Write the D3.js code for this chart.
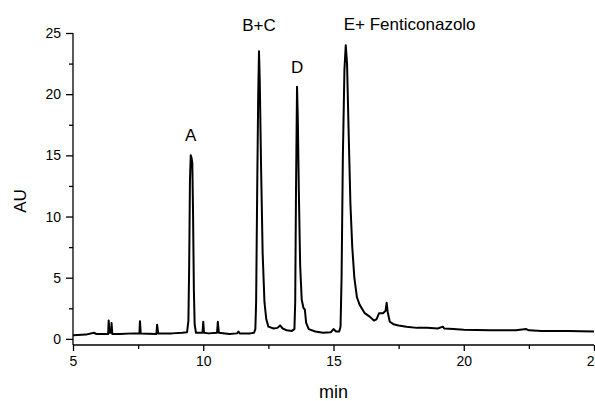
<!DOCTYPE html>
<html>
<head>
<meta charset="utf-8">
<script src="https://cdn.jsdelivr.net/npm/d3@7"></script>
<style>
  body { margin: 0; background: #fff; }
  svg { display: block; font-family: "Liberation Sans", Arial, sans-serif; }
</style>
</head>
<body>
<svg id="chart" width="595" height="401"></svg>
<script>
// retention time (min) and absorbance (AU)
const times = [
  5.0, 5.5, 5.8, 5.9, 6.2, 6.35, 6.37, 6.4, 6.46, 6.48, 6.51, 6.8, 7.3, 7.55, 7.57, 7.6,
  8.2, 8.23, 8.27, 8.8, 9.2, 9.38, 9.43, 9.46, 9.49, 9.52, 9.55, 9.58, 9.61, 9.64, 9.67, 9.72,
  9.9, 9.97, 10.0, 10.03, 10.2, 10.53, 10.56, 10.6, 11.0, 11.3, 11.35, 11.4, 11.8, 11.95,
  12.0, 12.03, 12.07, 12.11, 12.14, 12.17, 12.22, 12.28, 12.35, 12.42, 12.5, 12.7, 12.85, 12.95,
  13.05, 13.2, 13.4, 13.5, 13.53, 13.56, 13.6, 13.63, 13.67, 13.72, 13.78, 13.85, 13.9, 13.95,
  14.05, 14.3, 14.6, 14.9, 15.0, 15.1, 15.22, 15.27, 15.31, 15.36, 15.42, 15.47, 15.52, 15.58,
  15.65, 15.72, 15.8, 15.9, 16.0, 16.2, 16.4, 16.55, 16.65, 16.75, 16.9, 17.0, 17.04, 17.08,
  17.16, 17.3, 17.5, 17.8, 18.2, 18.6, 19.0, 19.2, 19.25, 19.6, 20.0, 21.0, 22.0, 22.4, 22.5,
  23.0, 24.0, 25.0
];
const absorbance = [
  0.3, 0.35, 0.5, 0.4, 0.4, 0.4, 1.5, 0.5, 0.5, 1.3, 0.4, 0.4, 0.45, 0.45, 1.45, 0.45,
  0.4, 1.15, 0.45, 0.45, 0.5, 0.55, 1.5, 6, 13, 15, 14.8, 14.4, 10, 4, 1.2, 0.5,
  0.5, 0.5, 1.4, 0.5, 0.45, 0.5, 1.4, 0.5, 0.4, 0.45, 0.6, 0.45, 0.45, 0.5,
  0.8, 3, 12, 20, 23.5, 21, 14, 7, 3, 1.6, 1.0, 0.85, 0.9, 1.1,
  0.85, 0.7, 0.65, 0.8, 3, 12, 20.6, 18, 12, 6, 3.2, 2.5, 2.4, 1.3,
  0.8, 0.6, 0.5, 0.55, 0.8, 0.6, 0.6, 1.0, 5, 15, 22, 24, 22.5, 17,
  11, 7.5, 5, 3.4, 2.8, 2.1, 1.8, 1.5, 1.6, 2.1, 2.1, 2.3, 2.95, 2.2,
  1.4, 1.2, 1.1, 1.0, 0.9, 0.9, 0.85, 1.0, 0.85, 0.8, 0.75, 0.7, 0.7, 0.8, 0.7,
  0.65, 0.65, 0.6
];

const xTicks = [5, 10, 15, 20, 25];
const yTicks = [0, 5, 10, 15, 20, 25];
const peakLabels = ["A", "B+C", "D", "E+ Fenticonazolo"];
const peakTimes = [9.52, 12.14, 13.6, 15.47];
const peakHeights = [15, 23.5, 20.6, 24];

const svg = d3.select("#chart");
const x = d3.scaleLinear().domain([5, 25]).range([73, 594]);
const y = d3.scaleLinear().domain([-0.5, 25]).range([345, 33]);

// y axis
const yAxis = svg.append("g").attr("transform", "translate(73,0)");
yAxis.append("g")
  .call(d3.axisLeft(y).tickValues(d3.range(2.5, 25, 5)).tickSize(4).tickFormat(""))
  .call(g => g.select(".domain").remove());
yAxis.append("g")
  .call(d3.axisLeft(y).tickValues(yTicks).tickSize(7).tickPadding(5))
  .call(g => g.select(".domain").attr("d", `M0,${y(25)}V${y(-0.5)}`));

// x axis
const xAxis = svg.append("g").attr("transform", "translate(0,345)");
xAxis.append("g")
  .call(d3.axisBottom(x).tickValues(d3.range(7.5, 25, 5)).tickSize(4).tickFormat(""))
  .call(g => g.select(".domain").remove());
xAxis.append("g")
  .call(d3.axisBottom(x).tickValues(xTicks).tickSize(6).tickPadding(5))
  .call(g => g.select(".domain").attr("d", `M${x(5)},0H${x(25)}`));

svg.selectAll(".tick text").attr("font-size", 14).attr("fill", "#000")
  .attr("font-family", "Liberation Sans, Arial, sans-serif");
svg.selectAll(".tick line, .domain").attr("stroke", "#000").attr("stroke-width", 1.3);

// trace
const line = d3.line()
  .x((d, i) => x(times[i]))
  .y(d => y(d));
svg.append("path")
  .datum(absorbance)
  .attr("d", line)
  .attr("fill", "none")
  .attr("stroke", "#000")
  .attr("stroke-width", 2)
  .attr("stroke-linejoin", "round");

// peak annotations
const labelOffsets = [[0, -14], [0, -20], [0, -14], [-2, -15]];
svg.selectAll(".peak")
  .data(peakLabels)
  .join("text")
  .attr("class", "peak")
  .attr("x", (d, i) => x(peakTimes[i]) + labelOffsets[i][0])
  .attr("y", (d, i) => y(peakHeights[i]) + labelOffsets[i][1])
  .attr("text-anchor", (d, i) => i === 3 ? "start" : "middle")
  .attr("font-size", 17)
  .text(d => d);

// axis titles
svg.append("text")
  .attr("x", x(15))
  .attr("y", 398)
  .attr("text-anchor", "middle")
  .attr("font-size", 18)
  .text("min");

svg.append("text")
  .attr("transform", "translate(26,201) rotate(-90)")
  .attr("text-anchor", "middle")
  .attr("font-size", 17)
  .text("AU");
</script>
</body>
</html>
